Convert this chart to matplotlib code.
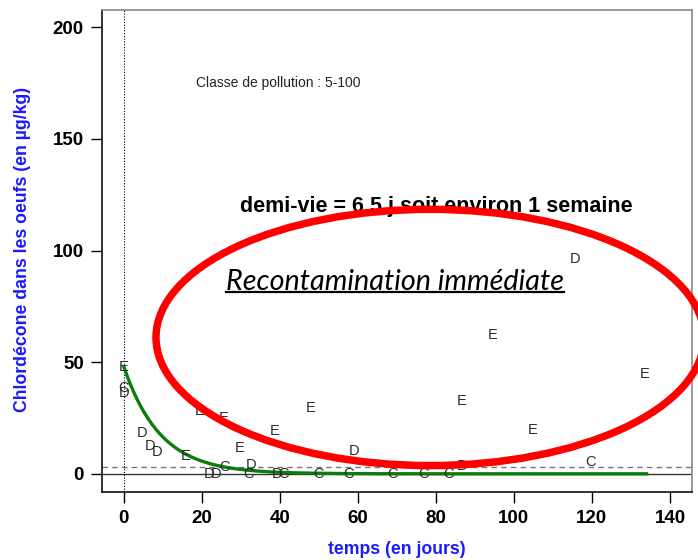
import matplotlib
matplotlib.use("Agg")
import matplotlib.pyplot as plt
from matplotlib.patches import Ellipse
from matplotlib.lines import Line2D
import numpy as np

plt.rcParams['font.family'] = ['Liberation Sans', 'DejaVu Sans']

# points (jours, µg/kg) par lettre
t_E = [0, 15.8, 19.5, 25.6, 29.7, 38.7, 47.9, 86.7, 94.6, 104.8, 133.6]
v_E = [47.7, 7.8, 28.3, 25.1, 11.7, 19.3, 29.7, 32.7, 62.3, 19.7, 44.8]
t_D = [0, 4.7, 6.7, 8.6, 21.9, 23.6, 32.7, 39.2, 59, 86.6, 115.6]
v_D = [36.3, 18.5, 12.6, 10, 0, 0, 4, 0, 10.3, 3.6, 96.4]
t_C = [0, 25.9, 31.9, 41, 50, 57.7, 69, 76.9, 83.2, 119.7]
v_C = [38.6, 3.1, 0, 0, 0, 0, 0, 0, 0, 5.1]

# modele de decroissance
c0 = 48
demi_vie = 6.5
t_fin = 134
seuil = 3

xticks = [0, 20, 40, 60, 80, 100, 120, 140]
yticks = [0, 50, 100, 150, 200]

fig = plt.figure(figsize=(6.98, 5.6), dpi=100)
ax = fig.add_axes([0.1461, 0.122, 0.845, 0.861])
ax.set_xlim(-5.6, 145.6)
ax.set_ylim(-8, 208)

ax.axhline(0, color='#333333', lw=1, zorder=1)
ax.axhline(seuil, color='#777777', lw=1, ls=(0, (4, 3)), zorder=1)
ax.axvline(0, color='black', lw=0.8, ls=(0, (1, 1.5)), zorder=1)

tt = np.linspace(0, t_fin, 300)
ax.plot(tt, c0 * 0.5 ** (tt / demi_vie), color='#0a7d0a', lw=2.4, zorder=2)

for lettre, ts, vs in [('E', t_E, v_E), ('D', t_D, v_D), ('C', t_C, v_C)]:
    for t, v in zip(ts, vs):
        ax.text(t, v, lettre, ha='center', va='center', fontsize=10.5,
                color='#2a2a2a', zorder=3)

ax.set_xticks(xticks)
ax.set_yticks(yticks)
ax.tick_params(direction='out', length=8, width=1, labelsize=13.5, pad=5)
for lab in ax.get_xticklabels() + ax.get_yticklabels():
    lab.set_fontweight('bold')
ax.spines['left'].set_color('#111111')
ax.spines['bottom'].set_color('#111111')
ax.spines['top'].set_color('#888888')
ax.spines['right'].set_color('#888888')
for s in ax.spines.values():
    s.set_linewidth(1.2)

ax.text(39.7, 174.9, 'Classe de pollution : 5-100', ha='center', va='center',
        fontsize=10, color='#222222')
ax.text(80, 119.7, 'demi-vie = 6.5 j soit environ 1 semaine', ha='center',
        va='center', fontsize=15.5, fontweight='bold', color='black', zorder=4)
rec = ax.text(69.5, 86.1, 'Recontamination immédiate', ha='center', va='center',
              fontsize=20.7, style='italic', family=['Lato', 'DejaVu Sans'],
              color='black', zorder=4)

ell = Ellipse((78.5, 61.1), 140.5, 114.8, fill=False, edgecolor='#ff0000',
              lw=5.4, clip_on=False, zorder=5)
ax.add_patch(ell)

fig.text(23 / 698, 1 - 249 / 560, 'Chlordécone dans les oeufs (en µg/kg)',
         rotation=90, ha='center', va='center', fontsize=12.7,
         fontweight='bold', color='#1a1aff')
fig.text(397 / 698, 1 - 549 / 560, 'temps (en jours)', ha='center', va='center',
         fontsize=12.7, fontweight='bold', color='#1a1aff')

# soulignement du texte
fig.canvas.draw()
bb = rec.get_window_extent().transformed(fig.transFigure.inverted())
ysous = bb.y0 + 0.004
fig.add_artist(Line2D([bb.x0, bb.x1], [ysous, ysous], color='black', lw=1.6,
                      transform=fig.transFigure))

fig.savefig('out.png', dpi=100)
